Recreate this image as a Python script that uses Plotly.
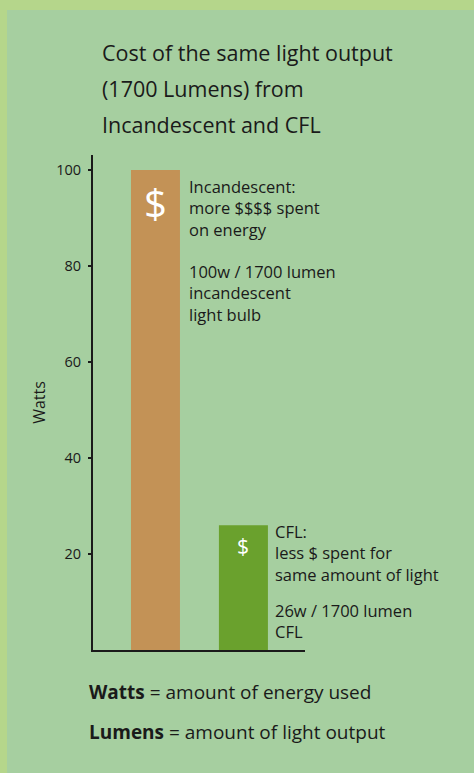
import plotly.graph_objects as go

categories = ["Incandescent", "CFL"]
watts = [100, 26]
bar_colors = ["#c39256", "#6aa12d"]
y_ticks = [20, 40, 60, 80, 100]

title_lines = ["Cost of the same light output", "(1700 Lumens) from", "Incandescent and CFL"]
inc_paras = [["Incandescent:", "more $$$$ spent", "on energy"],
             ["100w / 1700 lumen", "incandescent", "light bulb"]]
cfl_paras = [["CFL:", "less $ spent for", "same amount of light"],
             ["26w / 1700 lumen", "CFL"]]

W, H = 474, 773
FONT = "'Open Sans', sans-serif"
INK = "#1a1a1a"

def px(x):
    return x / W

def py(y):
    return 1 - y / H

fig = go.Figure()
fig.add_trace(go.Bar(
    x=[0, 1], y=watts, marker=dict(color=bar_colors, line=dict(width=0)),
    width=0.557, hoverinfo="skip", showlegend=False,
))

x0, x1 = 93, 305
ytop, ybot = 155, 650
ymax = (ybot - ytop) / 4.8

fig.update_layout(
    width=W, height=H, margin=dict(l=0, r=0, t=0, b=0),
    paper_bgcolor="#b5d68b", plot_bgcolor="rgba(0,0,0,0)",
    xaxis=dict(domain=[px(x0), px(x1)], range=[-0.71, 1.70], showticklabels=False,
               showgrid=False, zeroline=False, showline=True, linecolor=INK, linewidth=2,
               ticks="", fixedrange=True),
    yaxis=dict(domain=[py(ybot), py(ytop)], range=[0, ymax], tickvals=y_ticks,
               ticktext=[str(v) for v in y_ticks], showgrid=False, zeroline=False,
               showline=True, linecolor=INK, linewidth=2, ticks="outside", ticklen=3,
               tickcolor=INK, tickwidth=2,
               tickfont=dict(family=FONT, size=14.5, color=INK), ticklabelstandoff=4,
               title=dict(text="Watts", font=dict(family=FONT, size=16, color=INK), standoff=7),
               fixedrange=True),
    font=dict(family=FONT, color=INK),
)

# inner panel
fig.add_shape(type="rect", xref="paper", yref="paper", x0=px(7), x1=1, y0=0, y1=py(10),
              fillcolor="#a6cfa0", line=dict(width=0), layer="below")

ann = []
for i, line in enumerate(title_lines):
    ann.append(dict(x=px(100), y=py(52 + i * 36.5), xref="paper", yref="paper", text=line,
                    showarrow=False, xanchor="left", yanchor="middle",
                    font=dict(family=FONT, size=21.5, color=INK)))

def para(lines, xleft, ycenter):
    ann.append(dict(x=px(xleft), y=py(ycenter), xref="paper", yref="paper",
                    text="<br>".join(lines), align="left",
                    showarrow=False, xanchor="left", yanchor="middle",
                    font=dict(family=FONT, size=16.5, color=INK)))

para(inc_paras[0], 187, 208)
para(inc_paras[1], 187, 293)
para(cfl_paras[0], 273, 553)
para(cfl_paras[1], 273, 621)

# dollar signs on bars
ann.append(dict(x=0, y=watts[0], xref="x", yref="y", text="$", showarrow=False,
                yanchor="top", yshift=-3, font=dict(family=FONT, size=40, color="white")))
ann.append(dict(x=1, y=watts[1], xref="x", yref="y", text="$", showarrow=False,
                yanchor="top", yshift=-5, font=dict(family=FONT, size=21, color="white")))

ann.append(dict(x=px(87), y=py(692), xref="paper", yref="paper",
                text="<b>Watts</b> = amount of energy used", showarrow=False,
                xanchor="left", yanchor="middle", font=dict(family=FONT, size=19, color=INK)))
ann.append(dict(x=px(87), y=py(732), xref="paper", yref="paper",
                text="<b>Lumens</b> = amount of light output", showarrow=False,
                xanchor="left", yanchor="middle", font=dict(family=FONT, size=19, color=INK)))

fig.update_layout(annotations=ann)
fig.write_html("out.html", config={"displayModeBar": False},
               post_script="document.body.style.margin='0px';")
